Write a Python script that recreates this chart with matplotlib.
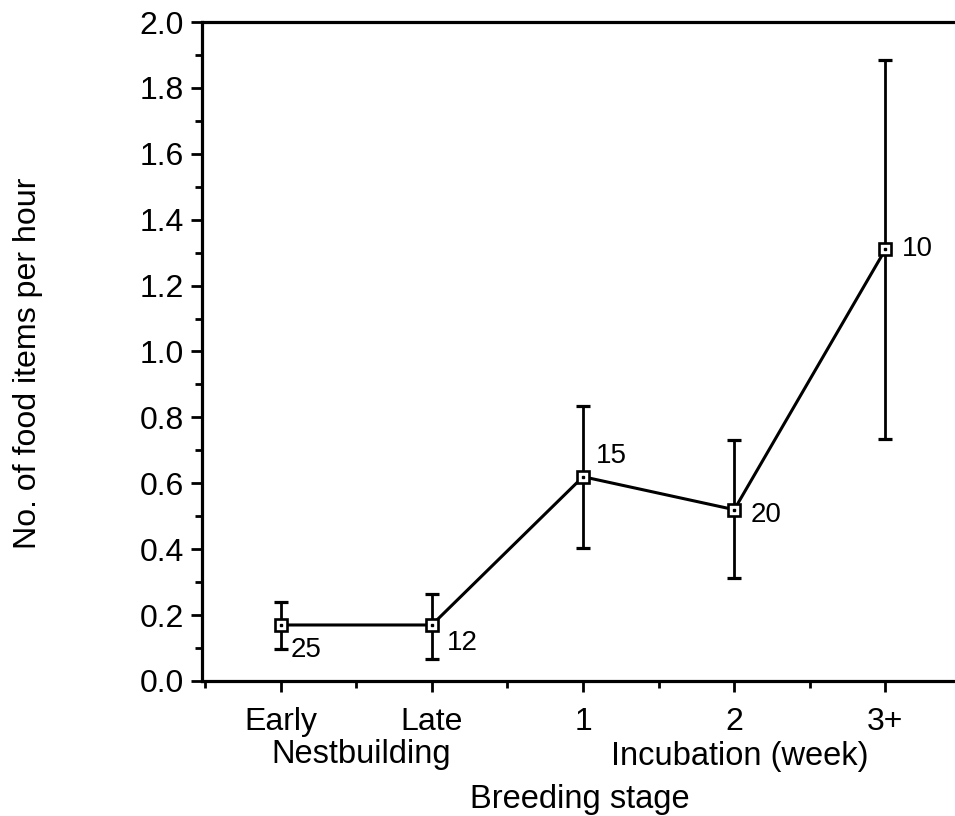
import matplotlib
matplotlib.use("Agg")
import matplotlib.pyplot as plt
from matplotlib.ticker import MultipleLocator, FormatStrFormatter

plt.rcParams['font.family'] = ['Liberation Sans', 'DejaVu Sans']

categories = ["Early", "Late", "1", "2", "3+"]
means = [0.17, 0.17, 0.62, 0.52, 1.31]
upper = [0.24, 0.265, 0.834, 0.73, 1.885]
lower = [0.098, 0.067, 0.405, 0.312, 0.735]
n_labels = ["25", "12", "15", "20", "10"]
# label offsets in points (dx, dy) for each n label
label_offsets = [(7, -18), (11, -13), (9.5, 15), (12, -4), (11.5, 0)]

x = list(range(len(categories)))
err_low = [m - l for m, l in zip(means, lower)]
err_up = [u - m for u, m in zip(upper, means)]

fig = plt.figure(figsize=(9.55, 8.16), dpi=100)
ax = fig.add_axes([202/955, 135/816, 1 - 202/955, (681-22)/816])

ax.errorbar(x, means, yerr=[err_low, err_up], fmt='none', ecolor='black',
            elinewidth=2.0, capsize=4.8, capthick=2.3, zorder=2)
ax.plot(x, means, color='black', lw=2.2, zorder=3)
ax.plot(x, means, 's', ms=8.2, mfc='white', mec='black', mew=1.9, zorder=4)
ax.plot(x, means, 's', ms=2.0, mfc='black', mec='black', zorder=5)

for xi, yi, lab, (dx, dy) in zip(x, means, n_labels, label_offsets):
    ax.annotate(lab, (xi, yi), xytext=(dx, dy), textcoords='offset points',
                fontsize=20, ha='left', va='center')

ax.set_xlim(-0.52, 4.46)
ax.set_ylim(0, 2.0)
ax.set_xticks(x)
ax.set_xticklabels(categories)
ax.xaxis.set_minor_locator(MultipleLocator(0.5))
ax.yaxis.set_major_locator(MultipleLocator(0.2))
ax.yaxis.set_minor_locator(MultipleLocator(0.1))
ax.yaxis.set_major_formatter(FormatStrFormatter('%.1f'))

ax.tick_params(axis='both', which='major', labelsize=23, width=2.0, length=8, direction='out', color='black')
ax.tick_params(axis='both', which='minor', width=2.0, length=5, direction='out')
ax.tick_params(axis='x', which='major', pad=10.5)
ax.tick_params(axis='y', which='major', pad=5)

ax.spines['right'].set_visible(False)
for s in ['left', 'bottom', 'top']:
    ax.spines[s].set_linewidth(2.3)

fig.text(361/955, 1 - 763/816, "Nestbuilding", fontsize=23.5, ha='center', va='baseline')
fig.text(740/955, 1 - 765/816, "Incubation (week)", fontsize=23.5, ha='center', va='baseline')
fig.text(580/955, 1 - 808/816, "Breeding stage", fontsize=23.5, ha='center', va='baseline')
fig.text(28/955, 1 - 363/816, "No. of food items per hour", fontsize=23.1, ha='center', va='center', rotation=90)

fig.savefig("out.png", dpi=100)
